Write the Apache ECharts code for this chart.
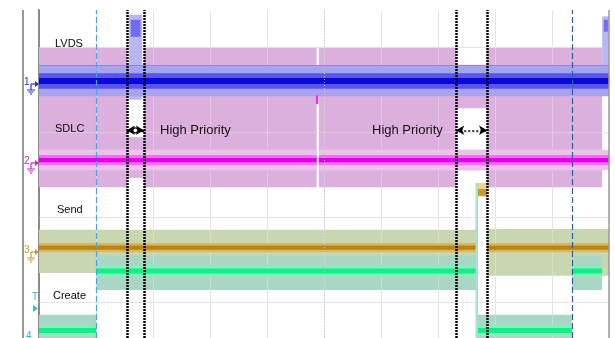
<!DOCTYPE html>
<html><head><meta charset="utf-8">
<script src="https://cdn.jsdelivr.net/npm/echarts@6/dist/echarts.min.js"></script>
<style>html,body{margin:0;padding:0;background:#fff}#c{width:615px;height:338px}</style>
</head><body><div id="c"></div>
<script>
// x: time in horizontal divisions (0..10), y: vertical divisions
const xDivs = [0,1,2,3,4,5,6,7,8,9,10];
const yGrid = [0,1,2,3];
const yRange = [-0.4235, 3.435];
const channelNames = ['LVDS','SDLC','Send','Create'];
const priorityText = 'High Priority';

// bands: [xStart, xEnd, yLow, yHigh]
const sdlcEnvelope = [[0,1.54,1.35,2.99],[1.54,1.84,1.46,1.94],[1.84,4.87,1.35,2.99],[4.91,7.32,1.35,2.99],[7.32,7.86,2.28,2.79],[7.32,7.86,1.55,1.79],[7.86,9.88,1.35,2.99]];
const lvdsBurst = [[1.58,1.81,2.38,3.38],[9.88,10,2.55,3.36]];
const lvdsBurstCore = [[1.61,1.78,3.12,3.32],[9.91,9.98,3.18,3.32]];
const lvdsOuter = [[0,10,2.42,2.78]];
const lvdsMid = [[0,10,2.51,2.69]];
const lvdsCore = [[0,10,2.565,2.635]];
const sdlcBand = [[0,4.87,1.55,1.79],[4.91,10,1.55,1.79]];
const sdlcMid = [[0,4.87,1.61,1.73],[4.91,10,1.61,1.73]];
const sdlcCore = [[0,4.87,1.645,1.695],[4.91,10,1.645,1.695]];
const sdlcBlip = [[4.86,4.9,2.33,2.43]];
const sendEnvelope = [[0,7.68,0.34,0.85],[7.86,10,0.31,0.86]];
const sendBand = [[0,7.68,0.585,0.695],[7.86,10,0.585,0.695]];
const sendCore = [[0,7.68,0.615,0.665],[7.86,10,0.615,0.665]];
const sendSpike = [[7.68,7.86,1.24,1.40]];
const sendSpikeCore = [[7.69,7.86,1.25,1.33]];
const createEnvelope = [[0,1.0,-0.45,-0.15],[1.0,7.68,0.14,0.55],[7.68,9.35,-0.45,-0.15],[9.35,9.88,0.14,0.55]];
const createBand = [[0,1.0,-0.40,-0.27],[1.0,7.68,0.30,0.43],[7.68,9.35,-0.40,-0.27],[9.35,9.88,0.30,0.43]];
const createCore = [[0,1.0,-0.365,-0.305],[1.0,7.68,0.335,0.395],[7.68,9.35,-0.365,-0.305],[9.35,9.88,0.335,0.395]];
const createEdge = [[7.68,-0.45],[7.68,1.40]];
const thresholdLevel = 2.79;
const cursorsBlue = [1.0, 9.35];
const dottedMarkers = [1.54, 1.84, 7.32, 7.86];
const priorityWindows = [[1.54,1.84],[7.32,7.86]];
const arrowLevel = 2.02;

function band(data, color, z) {
  return {
    type: 'custom', data: data, z: z || 2, silent: true, clip: true,
    encode: {x: [0, 1], y: [2, 3]},
    renderItem: function (params, api) {
      const p0 = api.coord([api.value(0), api.value(3)]);
      const p1 = api.coord([api.value(1), api.value(2)]);
      return {type: 'rect', shape: {x: p0[0], y: p0[1], width: p1[0] - p0[0], height: p1[1] - p0[1]}, style: {fill: color}};
    }
  };
}
// grid line segments [x1,y1,x2,y2] built from the division lists
const gridSegs = xDivs.slice(1, -1).map(x => [x, yRange[0], x, yRange[1]])
  .concat(yGrid.map(y => [xDivs[0], y, xDivs[xDivs.length - 1], y]));
function gridLines(color, z) {
  return {
    type: 'custom', data: gridSegs, z: z, silent: true, clip: true,
    encode: {x: [0, 2], y: [1, 3]},
    renderItem: function (params, api) {
      const a = api.coord([api.value(0), api.value(1)]);
      const b = api.coord([api.value(2), api.value(3)]);
      return {type: 'line', shape: {x1: Math.round(a[0]) + 0.5, y1: Math.round(a[1]) + 0.5, x2: Math.round(b[0]) + 0.5, y2: Math.round(b[1]) + 0.5}, style: {stroke: color, lineWidth: 1}};
    }
  };
}

const chart = echarts.init(document.getElementById('c'), null, {renderer: 'canvas'});

function chMarker(label, color, y) {
  return [
    {type: 'text', left: 24, top: y - 7, style: {text: label, fill: color, font: '10px "Liberation Sans", Arial'}},
    {type: 'line', shape: {x1: 31, y1: y, x2: 36, y2: y}, style: {stroke: color, lineWidth: 1.2}},
    {type: 'polygon', shape: {points: [[35, y - 3], [39, y], [35, y + 3]]}, style: {fill: color}},
    {type: 'line', shape: {x1: 31, y1: y, x2: 31, y2: y + 6}, style: {stroke: color, lineWidth: 1.2}},
    {type: 'line', shape: {x1: 27, y1: y + 6, x2: 35, y2: y + 6}, style: {stroke: color, lineWidth: 1}},
    {type: 'line', shape: {x1: 28.5, y1: y + 8, x2: 33.5, y2: y + 8}, style: {stroke: color, lineWidth: 1}},
    {type: 'line', shape: {x1: 30, y1: y + 10, x2: 32, y2: y + 10}, style: {stroke: color, lineWidth: 1}}
  ];
}

const txtFont = '11px "Liberation Sans", Arial';
const graphics = [
  {type: 'line', shape: {x1: 23, y1: 10, x2: 23, y2: 338}, style: {stroke: '#333', lineWidth: 1}},
  {type: 'text', left: 55, top: 38, style: {text: channelNames[0], fill: '#0a0a0a', font: txtFont}},
  {type: 'text', left: 55, top: 123, style: {text: channelNames[1], fill: '#0a0a0a', font: txtFont}},
  {type: 'text', left: 57, top: 204, style: {text: channelNames[2], fill: '#0a0a0a', font: txtFont}},
  {type: 'text', left: 53, top: 290, style: {text: channelNames[3], fill: '#0a0a0a', font: txtFont}},
  {type: 'text', left: 160, top: 124, style: {text: priorityText, fill: '#111', font: '13px "Liberation Sans", Arial'}},
  {type: 'text', left: 372, top: 124, style: {text: priorityText, fill: '#111', font: '13px "Liberation Sans", Arial'}},
  {type: 'text', left: 32, top: 292, style: {text: 'T', fill: '#20b8c8', font: '10px "Liberation Sans", Arial'}},
  {type: 'polygon', shape: {points: [[33, 305], [38, 308.5], [33, 312]]}, style: {fill: '#20c8c8'}},
  {type: 'text', left: 26, top: 331, style: {text: '4', fill: '#20c0c0', font: '10px "Liberation Sans", Arial'}}
].concat(chMarker('1', '#2a2ad8', 84), chMarker('2', '#d020d0', 163), chMarker('3', '#c09a30', 252))
 .map(g => Object.assign({z: 100}, g));

const option = {
  animation: false,
  backgroundColor: '#fff',
  grid: {left: 39, right: 6, top: 10, bottom: 0, containLabel: false},
  xAxis: {type: 'value', min: xDivs[0], max: xDivs[xDivs.length - 1],
    axisLine: {show: false}, axisTick: {show: false}, axisLabel: {show: false}, splitLine: {show: false}},
  yAxis: {type: 'value', min: yRange[0], max: yRange[1],
    axisLine: {show: true, lineStyle: {color: '#8a8a8a', width: 2}}, axisTick: {show: false}, axisLabel: {show: false},
    splitLine: {show: false}},
  graphic: {elements: graphics},
  series: [
    gridLines('#dadada', 1),
    band(sdlcEnvelope, '#dcb0dc', 2),
    band(sendEnvelope, '#c9d6b0', 2),
    band(createEnvelope, '#aad6c6', 2),
    gridLines('rgba(255,255,255,0.28)', 2),
    band(lvdsBurst, '#b9b6f3', 3),
    band(lvdsBurstCore, '#6f6cef', 3),
    band(lvdsOuter, '#a9a3ef', 3),
    band(lvdsMid, '#5a55ee', 3),
    band(lvdsCore, '#0a0ad8', 3),
    band(sdlcBand, '#eec0ee', 3),
    band(sdlcMid, '#f070f0', 3),
    band(sdlcCore, '#e000e6', 3),
    band(sdlcBlip, '#e030e8', 3),
    band(sendBand, '#d8b866', 3),
    band(sendCore, '#b8860f', 3),
    band(createBand, '#80f0bc', 3),
    band(createCore, '#14ee88', 3),
    band(sendSpike, '#e6d29a', 3),
    band(sendSpikeCore, '#c49a30', 3),
    {type: 'line', data: createEdge, z: 3, symbol: 'none', silent: true, lineStyle: {color: '#a6e0cf', width: 2.5}},
    {type: 'line', data: [], z: 5, silent: true,
      markLine: {silent: true, symbol: 'none', animation: false, label: {show: false},
        data: [{yAxis: thresholdLevel, lineStyle: {color: '#6a9ad8', width: 1, type: 'solid'}},
               {xAxis: xDivs[xDivs.length - 1], lineStyle: {color: '#999', width: 1.5, type: 'solid'}},
               {xAxis: 5, lineStyle: {color: '#c4c4c4', width: 1, type: [1, 2]}},
               {xAxis: cursorsBlue[0], lineStyle: {color: '#4aa3e0', width: 1.2, type: [6, 3]}},
               {xAxis: cursorsBlue[1], lineStyle: {color: '#2f5f9f', width: 1.2, type: [6, 3]}}]
          .concat(dottedMarkers.map(v => ({xAxis: v, lineStyle: {color: '#000', width: 2.5, type: [2, 1]}})))}},
    {type: 'line', data: [], z: 6, silent: true,
      markLine: {silent: true, animation: false, symbol: ['arrow', 'arrow'], symbolSize: [7, 8], label: {show: false},
        data: [
          [{coord: [priorityWindows[0][0], arrowLevel], lineStyle: {color: '#000', width: 2, type: 'solid'}}, {coord: [priorityWindows[0][1], arrowLevel]}],
          [{coord: [priorityWindows[1][0], arrowLevel], lineStyle: {color: '#000', width: 1.5, type: [2, 2]}}, {coord: [priorityWindows[1][1], arrowLevel]}]
        ]},
      markPoint: {silent: true, animation: false, symbol: 'circle', symbolSize: 5, label: {show: false},
        itemStyle: {color: '#fff', borderColor: '#000', borderWidth: 1.2},
        data: [{coord: [(priorityWindows[0][0] + priorityWindows[0][1]) / 2, arrowLevel]}]}}
  ]
};
chart.setOption(option);
</script></body></html>
